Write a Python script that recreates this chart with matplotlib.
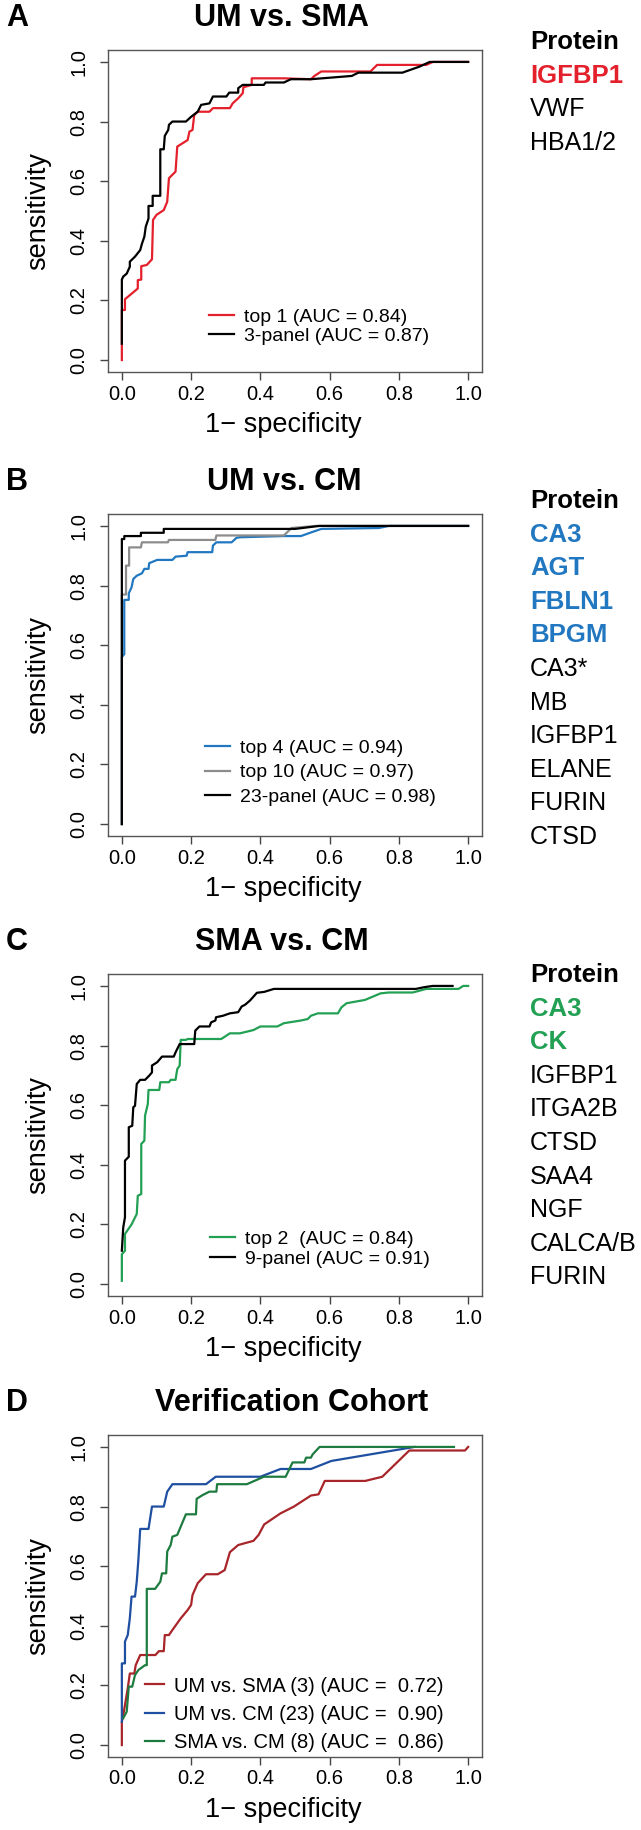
import matplotlib
matplotlib.use("Agg")
import matplotlib.pyplot as plt

plt.rcParams['font.family'] = ['Liberation Sans', 'DejaVu Sans']

# ---- panel A: UM vs. SMA
a_top1_fpr = [0, 0, 0.009, 0.009, 0.046, 0.046, 0.056, 0.056, 0.072, 0.087, 0.09, 0.10, 0.121, 0.131,
              0.136, 0.155, 0.16, 0.19, 0.195, 0.204, 0.209, 0.219, 0.253, 0.263, 0.312, 0.32, 0.336,
              0.349, 0.351, 0.375, 0.375, 0.468, 0.546, 0.556, 0.576, 0.718, 0.737, 0.879, 0.898, 1.0]
a_top1_tpr = [0, 0.168, 0.168, 0.204, 0.24, 0.268, 0.27, 0.315, 0.319, 0.338, 0.47, 0.487, 0.503, 0.531,
              0.61, 0.632, 0.716, 0.738, 0.766, 0.772, 0.822, 0.833, 0.833, 0.845, 0.845, 0.861, 0.878,
              0.895, 0.915, 0.923, 0.945, 0.945, 0.942, 0.953, 0.968, 0.968, 0.99, 0.99, 1.0, 1.0]
a_panel_fpr = [0, 0, 0.004, 0.014, 0.023, 0.023, 0.038, 0.053, 0.058, 0.065, 0.069, 0.077, 0.077, 0.089,
               0.089, 0.111, 0.111, 0.121, 0.124, 0.134, 0.136, 0.146, 0.185, 0.2, 0.219, 0.229, 0.253,
               0.263, 0.302, 0.31, 0.336, 0.336, 0.349, 0.41, 0.415, 0.468, 0.488, 0.546, 0.664, 0.683,
               0.81, 0.859, 0.889, 1.0]
a_panel_tpr = [0.055, 0.27, 0.28, 0.29, 0.313, 0.33, 0.347, 0.369, 0.39, 0.414, 0.447, 0.475, 0.517, 0.517,
               0.551, 0.551, 0.707, 0.707, 0.752, 0.772, 0.789, 0.80, 0.80, 0.816, 0.833, 0.856, 0.861,
               0.884, 0.884, 0.897, 0.897, 0.912, 0.923, 0.923, 0.931, 0.931, 0.942, 0.942, 0.953, 0.964,
               0.964, 0.984, 1.0, 1.0]

# ---- panel B: UM vs. CM
b_top4_fpr = [0, 0, 0.007, 0.007, 0.02, 0.02, 0.028, 0.033, 0.043, 0.058, 0.065, 0.077, 0.079, 0.102,
              0.146, 0.155, 0.187, 0.19, 0.261, 0.263, 0.273, 0.317, 0.331, 0.341, 0.468, 0.517, 0.546,
              0.576, 0.742, 0.771, 1.0]
b_top4_tpr = [0, 0.56, 0.57, 0.752, 0.752, 0.774, 0.794, 0.822, 0.833, 0.841, 0.856, 0.856, 0.875, 0.886,
              0.886, 0.897, 0.9, 0.912, 0.912, 0.934, 0.945, 0.945, 0.96, 0.962, 0.966, 0.966, 0.978,
              0.99, 0.993, 1.0, 1.0]
b_top10_fpr = [0, 0, 0.012, 0.012, 0.021, 0.021, 0.055, 0.058, 0.133, 0.136, 0.27, 0.273, 0.468, 0.49,
               0.56, 1.0]
b_top10_tpr = [0, 0.77, 0.77, 0.867, 0.867, 0.928, 0.928, 0.945, 0.945, 0.953, 0.953, 0.968, 0.968, 0.993,
               1.0, 1.0]
b_panel_fpr = [0, 0, 0.007, 0.007, 0.055, 0.055, 0.121, 0.121, 0.5, 0.57, 1.0]
b_panel_tpr = [0, 0.956, 0.956, 0.966, 0.966, 0.977, 0.977, 0.99, 0.99, 1.0, 1.0]

# ---- panel C: SMA vs. CM
c_top2_fpr = [0, 0, 0.009, 0.009, 0.028, 0.043, 0.046, 0.056, 0.056, 0.065, 0.067, 0.075, 0.077, 0.108,
              0.111, 0.136, 0.141, 0.155, 0.16, 0.167, 0.17, 0.185, 0.19, 0.287, 0.312, 0.341, 0.38, 0.4,
              0.449, 0.468, 0.517, 0.537, 0.546, 0.566, 0.624, 0.634, 0.649, 0.702, 0.747, 0.771, 0.84,
              0.879, 0.972, 0.986, 1.0]
c_top2_tpr = [0.011, 0.1, 0.112, 0.168, 0.2, 0.235, 0.296, 0.302, 0.47, 0.481, 0.565, 0.604, 0.651, 0.651,
              0.677, 0.677, 0.685, 0.685, 0.721, 0.733, 0.819, 0.819, 0.822, 0.822, 0.841, 0.841, 0.852,
              0.864, 0.864, 0.875, 0.884, 0.889, 0.9, 0.908, 0.908, 0.928, 0.942, 0.953, 0.975, 0.978,
              0.978, 0.99, 0.99, 1.0, 1.0]
c_panel_fpr = [0, 0.004, 0.009, 0.009, 0.02, 0.02, 0.03, 0.033, 0.038, 0.043, 0.053, 0.067, 0.079, 0.087,
               0.087, 0.102, 0.116, 0.15, 0.155, 0.167, 0.209, 0.212, 0.224, 0.253, 0.258, 0.27, 0.272,
               0.292, 0.312, 0.336, 0.346, 0.356, 0.37, 0.39, 0.411, 0.439, 0.849, 0.874, 0.898, 0.955]
c_panel_tpr = [0.112, 0.19, 0.224, 0.414, 0.427, 0.526, 0.531, 0.593, 0.598, 0.671, 0.685, 0.685, 0.699,
               0.71, 0.733, 0.744, 0.763, 0.763, 0.777, 0.805, 0.805, 0.85, 0.864, 0.864, 0.878, 0.884,
               0.895, 0.9, 0.908, 0.912, 0.931, 0.937, 0.951, 0.977, 0.98, 0.99, 0.99, 0.996, 1.0, 1.0]

# ---- panel D: verification cohort
d_ums_fpr = [0, 0, 0.004, 0.017, 0.023, 0.036, 0.04, 0.053, 0.097, 0.107, 0.121, 0.124, 0.136, 0.146, 0.17,
             0.19, 0.2, 0.204, 0.219, 0.243, 0.277, 0.297, 0.312, 0.336, 0.38, 0.395, 0.411, 0.458, 0.497,
             0.546, 0.568, 0.586, 0.703, 0.752, 0.83, 0.991, 1.0]
d_ums_tpr = [0, 0.078, 0.1, 0.19, 0.24, 0.24, 0.268, 0.302, 0.302, 0.315, 0.315, 0.369, 0.369, 0.386, 0.425,
             0.453, 0.47, 0.503, 0.543, 0.573, 0.573, 0.587, 0.647, 0.671, 0.685, 0.705, 0.74, 0.777, 0.8,
             0.837, 0.841, 0.886, 0.886, 0.9, 0.988, 0.988, 1.0]
d_umc_fpr = [0, 0, 0.009, 0.009, 0.017, 0.023, 0.028, 0.038, 0.043, 0.048, 0.053, 0.077, 0.087, 0.121, 0.131,
             0.146, 0.243, 0.271, 0.4, 0.458, 0.546, 0.605, 0.845]
d_umc_tpr = [0.078, 0.274, 0.274, 0.347, 0.369, 0.425, 0.498, 0.498, 0.548, 0.626, 0.725, 0.725, 0.8, 0.8,
             0.85, 0.875, 0.875, 0.9, 0.9, 0.926, 0.926, 0.953, 1.0]
d_smc_fpr = [0.004, 0.014, 0.02, 0.03, 0.038, 0.048, 0.067, 0.072, 0.072, 0.096, 0.111, 0.116, 0.128, 0.131,
             0.141, 0.146, 0.16, 0.185, 0.214, 0.216, 0.234, 0.253, 0.273, 0.275, 0.361, 0.41, 0.473, 0.493,
             0.527, 0.532, 0.546, 0.551, 0.571, 0.959]
d_smc_tpr = [0.09, 0.112, 0.196, 0.196, 0.235, 0.252, 0.268, 0.268, 0.524, 0.524, 0.548, 0.576, 0.576, 0.649,
             0.671, 0.699, 0.705, 0.774, 0.774, 0.826, 0.839, 0.85, 0.85, 0.875, 0.875, 0.9, 0.9, 0.948,
             0.948, 0.964, 0.964, 0.975, 1.0, 1.0]

titles = ["UM vs. SMA", "UM vs. CM", "SMA vs. CM", "Verification Cohort"]
letters = ["A", "B", "C", "D"]

a_proteins = ["IGFBP1", "VWF", "HBA1/2"]
b_proteins = ["CA3", "AGT", "FBLN1", "BPGM", "CA3*", "MB", "IGFBP1", "ELANE", "FURIN", "CTSD"]
c_proteins = ["CA3", "CK", "IGFBP1", "ITGA2B", "CTSD", "SAA4", "NGF", "CALCA/B", "FURIN"]
n_top = [1, 4, 2]
protein_colors = ["#E3202B", "#2278C0", "#22A053"]

panels = [
    dict(curves=[(a_top1_fpr, a_top1_tpr, "#E3202B", "top 1 (AUC = 0.84)"),
                 (a_panel_fpr, a_panel_tpr, "black", "3-panel (AUC = 0.87)")],
         leg=(0.27, 0.197), spacing=0.05, fs=14, hl=1.3, tx=0.465),
    dict(curves=[(b_top4_fpr, b_top4_tpr, "#2278C0", "top 4 (AUC = 0.94)"),
                 (b_top10_fpr, b_top10_tpr, "#8C8C8C", "top 10 (AUC = 0.97)"),
                 (b_panel_fpr, b_panel_tpr, "black", "23-panel (AUC = 0.98)")],
         leg=(0.259, 0.30), spacing=0.35, fs=14, hl=1.3, tx=0.47),
    dict(curves=[(c_top2_fpr, c_top2_tpr, "#22A053", "top 2  (AUC = 0.84)"),
                 (c_panel_fpr, c_panel_tpr, "black", "9-panel (AUC = 0.91)")],
         leg=(0.273, 0.203), spacing=0.1, fs=14, hl=1.3, tx=0.465),
    dict(curves=[(d_ums_fpr, d_ums_tpr, "#A8252A", "UM vs. SMA (3) (AUC =  0.72)"),
                 (d_umc_fpr, d_umc_tpr, "#1F4FA0", "UM vs. CM (23) (AUC =  0.90)"),
                 (d_smc_fpr, d_smc_tpr, "#1E7B40", "SMA vs. CM (8) (AUC =  0.86)")],
         leg=(0.099, 0.25), spacing=0.45, fs=14.5, hl=0.95, tx=0.49),
]

W, H = 641, 1830
box_left, box_w, box_h = 108, 374, 322
box_tops = [50, 514, 974, 1435]

fig = plt.figure(figsize=(W / 100, H / 100), dpi=100)

for i, p in enumerate(panels):
    top = box_tops[i]
    ax = fig.add_axes([box_left / W, 1 - (top + box_h) / H, box_w / W, box_h / H])
    for fpr, tpr, col, lab in p["curves"]:
        ax.plot(fpr, tpr, color=col, lw=1.6, label=lab)
    ax.set_xlim(-0.04, 1.04)
    ax.set_ylim(-0.04, 1.04)
    ticks = [0.0, 0.2, 0.4, 0.6, 0.8, 1.0]
    ax.set_xticks(ticks)
    ax.set_yticks(ticks)
    ax.set_xticklabels([f"{t:.1f}" for t in ticks], fontsize=14.5)
    ax.set_yticklabels([f"{t:.1f}" for t in ticks], fontsize=14.5, rotation=90, va="center")
    ax.tick_params(direction="out", length=5.5, width=1, color="#444444")
    ax.tick_params(axis="x", pad=3.5)
    ax.tick_params(axis="y", pad=8.5)
    for s in ax.spines.values():
        s.set_color("#555555")
        s.set_linewidth(1.0)

    ax.text(p["tx"], 1 + 32 / box_h, titles[i], transform=ax.transAxes, ha="center", va="center",
            fontsize=22, fontweight="bold")
    ax.text(-0.243, 1 + 32 / box_h, letters[i], transform=ax.transAxes, ha="center", va="center",
            fontsize=22, fontweight="bold")
    ax.text(-0.187, 0.5, "sensitivity", transform=ax.transAxes, ha="center", va="center",
            rotation=90, fontsize=19.5)
    ax.text(0.468, -53 / box_h, "1\u2212 specificity", transform=ax.transAxes, ha="center", va="center",
            fontsize=19.5)

    ax.legend(loc="upper left", bbox_to_anchor=p["leg"], frameon=False, fontsize=p["fs"],
              handlelength=p["hl"], handletextpad=0.5, labelspacing=p["spacing"],
              borderpad=0, borderaxespad=0)

# protein lists to the right of panels A-C
lists = [a_proteins, b_proteins, c_proteins]
first_rows = [42, 501, 975]
row_step = 33.6
for k, prots in enumerate(lists):
    y0 = first_rows[k]
    fig.text(530 / W, 1 - y0 / H, "Protein", ha="left", va="center", fontsize=18.5, fontweight="bold")
    for j, name in enumerate(prots):
        y = y0 + (j + 1) * row_step
        if j < n_top[k]:
            fig.text(530 / W, 1 - y / H, name, ha="left", va="center", fontsize=18.5,
                     fontweight="bold", color=protein_colors[k])
        else:
            fig.text(530 / W, 1 - y / H, name, ha="left", va="center", fontsize=18, color="black")

fig.savefig("out.png", dpi=100)
